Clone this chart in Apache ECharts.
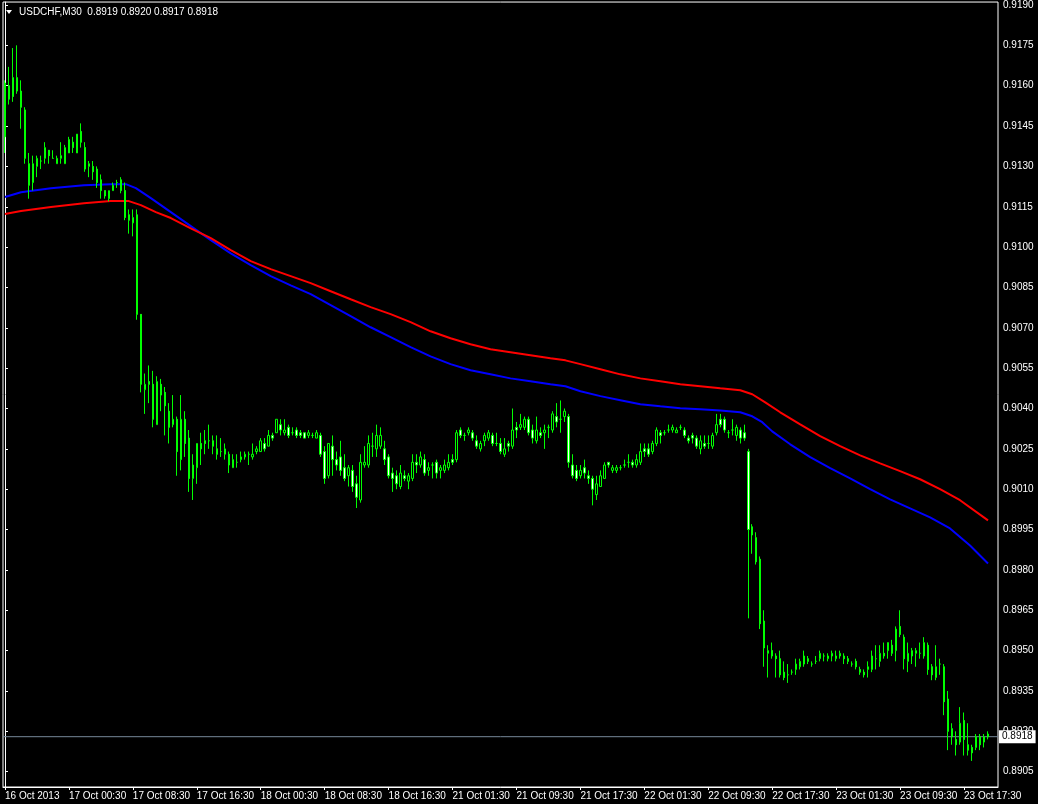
<!DOCTYPE html>
<html><head><meta charset="utf-8">
<script src="https://cdn.jsdelivr.net/npm/echarts@6/dist/echarts.min.js"></script>
<style>html,body{margin:0;padding:0;background:#000}#c{width:1038px;height:804px}</style>
</head><body><div id="c"></div>
<script>
const symbol = 'USDCHF,M30';
const xTickLabels = ['16 Oct 2013','17 Oct 00:30','17 Oct 08:30','17 Oct 16:30','18 Oct 00:30','18 Oct 08:30','18 Oct 16:30','21 Oct 01:30','21 Oct 09:30','21 Oct 17:30','22 Oct 01:30','22 Oct 09:30','22 Oct 17:30','23 Oct 01:30','23 Oct 09:30','23 Oct 17:30'];
const barsPerTick = 16;
const yTicks = [0.8905,0.8920,0.8935,0.8950,0.8965,0.8980,0.8995,0.9010,0.9025,0.9040,0.9055,0.9070,0.9085,0.9100,0.9115,0.9130,0.9145,0.9160,0.9175,0.9190];
const lastPrice = 0.8918;

const open = [0.9161,0.9160,0.9163,0.9163,0.9158,0.9151,0.9131,0.9124,0.9130,0.9132,0.9133,0.9136,0.9133,0.9131,0.9133,0.9131,0.9135,0.9139,0.9135,0.9143,
0.9137,0.9130,0.9130,0.9129,0.9125,0.9121,0.9118,0.9121,0.9124,0.9125,0.9121,0.9112,0.9109,0.9112,0.9075,0.9047,0.9050,0.9049,0.9034,0.9049,
0.9046,0.9039,0.9034,0.9036,0.9021,0.9036,0.9029,0.9014,0.9018,0.9027,0.9028,0.9028,0.9028,0.9025,0.9024,0.9023,0.9023,0.9018,0.9020,0.9021,
0.9022,0.9023,0.9022,0.9024,0.9024,0.9027,0.9026,0.9030,0.9031,0.9034,0.9031,0.9033,0.9031,0.9032,0.9031,0.9031,0.9030,0.9030,0.9029,0.9030,
0.9024,0.9015,0.9026,0.9021,0.9022,0.9018,0.9015,0.9017,0.9012,0.9006,0.9019,0.9019,0.9026,0.9025,0.9026,0.9025,0.9022,0.9016,0.9015,0.9011,
0.9015,0.9013,0.9014,0.9020,0.9019,0.9021,0.9017,0.9019,0.9020,0.9017,0.9017,0.9018,0.9021,0.9021,0.9032,0.9030,0.9031,0.9031,0.9028,0.9025,
0.9028,0.9029,0.9030,0.9027,0.9027,0.9023,0.9027,0.9026,0.9033,0.9033,0.9033,0.9036,0.9032,0.9028,0.9031,0.9031,0.9033,0.9032,0.9037,0.9036,
0.9037,0.9037,0.9019,0.9017,0.9015,0.9018,0.9015,0.9014,0.9008,0.9011,0.9014,0.9020,0.9017,0.9017,0.9018,0.9019,0.9020,0.9020,0.9019,0.9020,
0.9025,0.9025,0.9024,0.9027,0.9031,0.9031,0.9032,0.9032,0.9031,0.9033,0.9032,0.9029,0.9030,0.9029,0.9025,0.9027,0.9027,0.9026,0.9031,0.9036,
0.9036,0.9031,0.9032,0.9030,0.9032,0.9031,0.9024,0.8996,0.8992,0.8984,0.8961,0.8949,0.8950,0.8948,0.8947,0.8942,0.8941,0.8942,0.8943,0.8944,
0.8945,0.8947,0.8945,0.8946,0.8947,0.8948,0.8947,0.8948,0.8947,0.8948,0.8948,0.8947,0.8945,0.8946,0.8943,0.8942,0.8943,0.8943,0.8947,0.8946,
0.8949,0.8950,0.8952,0.8950,0.8959,0.8955,0.8946,0.8948,0.8949,0.8949,0.8948,0.8952,0.8944,0.8940,0.8945,0.8944,0.8932,0.8921,0.8917,0.8916,
0.8924,0.8915,0.8914,0.8914,0.8918,0.8916,0.8919];
const high = [0.9162,0.9167,0.9174,0.9175,0.9162,0.9152,0.9135,0.9134,0.9134,0.9134,0.9139,0.9136,0.9136,0.9134,0.9139,0.9138,0.9141,0.9141,0.9142,0.9146,
0.9139,0.9132,0.9132,0.9130,0.9127,0.9121,0.9121,0.9124,0.9125,0.9126,0.9124,0.9114,0.9114,0.9114,0.9075,0.9053,0.9056,0.9054,0.9052,0.9051,
0.9048,0.9042,0.9045,0.9037,0.9045,0.9039,0.9032,0.9023,0.9027,0.9031,0.9032,0.9034,0.9030,0.9030,0.9029,0.9027,0.9024,0.9023,0.9023,0.9024,
0.9024,0.9024,0.9027,0.9026,0.9029,0.9029,0.9032,0.9031,0.9036,0.9036,0.9036,0.9034,0.9033,0.9033,0.9032,0.9031,0.9032,0.9031,0.9032,0.9031,
0.9026,0.9027,0.9030,0.9024,0.9028,0.9023,0.9019,0.9019,0.9015,0.9023,0.9026,0.9030,0.9031,0.9034,0.9033,0.9028,0.9023,0.9018,0.9017,0.9019,
0.9017,0.9016,0.9023,0.9023,0.9024,0.9023,0.9020,0.9020,0.9021,0.9019,0.9021,0.9023,0.9023,0.9032,0.9033,0.9031,0.9033,0.9032,0.9030,0.9028,
0.9031,0.9032,0.9031,0.9031,0.9029,0.9029,0.9028,0.9040,0.9035,0.9038,0.9037,0.9037,0.9034,0.9037,0.9033,0.9034,0.9034,0.9039,0.9042,0.9043,
0.9040,0.9038,0.9023,0.9019,0.9019,0.9021,0.9017,0.9015,0.9015,0.9017,0.9020,0.9020,0.9019,0.9019,0.9019,0.9021,0.9023,0.9021,0.9023,0.9027,
0.9027,0.9027,0.9028,0.9033,0.9032,0.9032,0.9034,0.9034,0.9033,0.9034,0.9033,0.9030,0.9031,0.9030,0.9030,0.9030,0.9030,0.9031,0.9038,0.9038,
0.9037,0.9032,0.9036,0.9034,0.9033,0.9034,0.9025,0.8997,0.8994,0.8985,0.8965,0.8952,0.8953,0.8949,0.8950,0.8946,0.8945,0.8943,0.8947,0.8947,
0.8950,0.8948,0.8946,0.8948,0.8950,0.8949,0.8949,0.8950,0.8950,0.8950,0.8949,0.8948,0.8946,0.8947,0.8944,0.8943,0.8946,0.8950,0.8952,0.8952,
0.8953,0.8953,0.8954,0.8959,0.8965,0.8956,0.8953,0.8951,0.8951,0.8953,0.8955,0.8953,0.8945,0.8952,0.8947,0.8945,0.8935,0.8923,0.8920,0.8929,
0.8927,0.8923,0.8915,0.8919,0.8919,0.8919,0.8920];
const low = [0.9135,0.9153,0.9154,0.9157,0.9144,0.9131,0.9118,0.9121,0.9126,0.9129,0.9131,0.9131,0.9133,0.9131,0.9131,0.9131,0.9135,0.9135,0.9135,0.9137,
0.9128,0.9126,0.9125,0.9122,0.9118,0.9118,0.9117,0.9121,0.9122,0.9120,0.9110,0.9105,0.9104,0.9073,0.9046,0.9038,0.9042,0.9033,0.9034,0.9039,
0.9030,0.9027,0.9033,0.9015,0.9017,0.9022,0.9009,0.9006,0.9012,0.9019,0.9023,0.9025,0.9023,0.9021,0.9022,0.9021,0.9016,0.9018,0.9018,0.9020,
0.9021,0.9019,0.9021,0.9023,0.9024,0.9024,0.9026,0.9028,0.9031,0.9030,0.9030,0.9029,0.9030,0.9029,0.9029,0.9029,0.9029,0.9029,0.9029,0.9022,
0.9012,0.9014,0.9015,0.9017,0.9015,0.9013,0.9011,0.9009,0.9003,0.9005,0.9018,0.9018,0.9022,0.9022,0.9025,0.9019,0.9014,0.9009,0.9010,0.9010,
0.9013,0.9010,0.9013,0.9016,0.9018,0.9015,0.9015,0.9014,0.9014,0.9014,0.9016,0.9017,0.9019,0.9020,0.9029,0.9028,0.9030,0.9028,0.9025,0.9024,
0.9026,0.9028,0.9026,0.9026,0.9023,0.9022,0.9024,0.9025,0.9029,0.9032,0.9032,0.9030,0.9027,0.9027,0.9029,0.9025,0.9029,0.9031,0.9033,0.9031,
0.9035,0.9018,0.9014,0.9013,0.9014,0.9014,0.9012,0.9004,0.9006,0.9011,0.9014,0.9018,0.9016,0.9016,0.9017,0.9018,0.9018,0.9018,0.9018,0.9019,
0.9022,0.9022,0.9023,0.9026,0.9027,0.9030,0.9031,0.9031,0.9031,0.9032,0.9029,0.9027,0.9027,0.9025,0.9023,0.9025,0.9025,0.9025,0.9030,0.9033,
0.9031,0.9029,0.9030,0.9028,0.9027,0.9028,0.8962,0.8986,0.8982,0.8958,0.8944,0.8940,0.8947,0.8940,0.8940,0.8939,0.8938,0.8941,0.8941,0.8943,
0.8944,0.8945,0.8944,0.8945,0.8946,0.8946,0.8946,0.8946,0.8946,0.8947,0.8945,0.8945,0.8944,0.8943,0.8941,0.8940,0.8940,0.8942,0.8943,0.8944,
0.8947,0.8947,0.8948,0.8946,0.8955,0.8943,0.8942,0.8945,0.8944,0.8947,0.8947,0.8941,0.8939,0.8939,0.8941,0.8926,0.8913,0.8915,0.8911,0.8915,
0.8911,0.8911,0.8909,0.8913,0.8913,0.8914,0.8917];
const close = [0.9141,0.9155,0.9156,0.9158,0.9152,0.9133,0.9123,0.9131,0.9133,0.9132,0.9137,0.9134,0.9133,0.9133,0.9134,0.9137,0.9140,0.9137,0.9142,0.9139,
0.9129,0.9131,0.9128,0.9124,0.9121,0.9119,0.9121,0.9123,0.9124,0.9121,0.9111,0.9110,0.9111,0.9075,0.9049,0.9049,0.9049,0.9036,0.9050,0.9045,
0.9041,0.9033,0.9036,0.9024,0.9036,0.9027,0.9014,0.9019,0.9027,0.9025,0.9027,0.9028,0.9026,0.9023,0.9024,0.9025,0.9019,0.9021,0.9020,0.9022,
0.9023,0.9023,0.9023,0.9025,0.9028,0.9025,0.9030,0.9029,0.9036,0.9032,0.9032,0.9030,0.9031,0.9030,0.9030,0.9029,0.9031,0.9030,0.9031,0.9023,
0.9014,0.9027,0.9021,0.9019,0.9017,0.9014,0.9018,0.9011,0.9007,0.9020,0.9020,0.9027,0.9026,0.9030,0.9030,0.9021,0.9015,0.9014,0.9012,0.9016,
0.9014,0.9015,0.9020,0.9019,0.9022,0.9016,0.9018,0.9019,0.9016,0.9018,0.9019,0.9020,0.9020,0.9031,0.9030,0.9030,0.9032,0.9029,0.9026,0.9027,
0.9030,0.9031,0.9027,0.9027,0.9024,0.9025,0.9026,0.9032,0.9032,0.9034,0.9036,0.9031,0.9029,0.9032,0.9030,0.9032,0.9033,0.9038,0.9035,0.9036,
0.9039,0.9020,0.9015,0.9014,0.9017,0.9016,0.9014,0.9010,0.9012,0.9015,0.9019,0.9019,0.9018,0.9018,0.9018,0.9019,0.9020,0.9019,0.9021,0.9024,
0.9024,0.9023,0.9027,0.9032,0.9030,0.9031,0.9032,0.9033,0.9032,0.9033,0.9030,0.9028,0.9029,0.9026,0.9028,0.9026,0.9027,0.9030,0.9034,0.9034,
0.9032,0.9031,0.9032,0.9033,0.9029,0.9029,0.8995,0.8993,0.8983,0.8960,0.8951,0.8950,0.8948,0.8947,0.8941,0.8940,0.8941,0.8942,0.8945,0.8946,
0.8948,0.8946,0.8945,0.8946,0.8949,0.8948,0.8948,0.8949,0.8948,0.8949,0.8947,0.8946,0.8945,0.8944,0.8942,0.8941,0.8944,0.8948,0.8947,0.8949,
0.8948,0.8953,0.8949,0.8958,0.8956,0.8947,0.8949,0.8950,0.8950,0.8949,0.8953,0.8943,0.8941,0.8944,0.8945,0.8931,0.8920,0.8918,0.8915,0.8923,
0.8917,0.8913,0.8912,0.8918,0.8915,0.8918,0.8918];

const blueIdx = [0,4,11.5,19.75,26.5,30.25,32.75,36.5,41.5,46.5,51.5,56.5,61.5,66.5,71.5,76.5,81.5,86.5,91.5,96.5,101.5,106.5,111.5,116.5,121.5,126.5,131.5,136.5,140.25,144,149,154,159,164,169,174,179,184,187,189.5,192,196.5,201.5,206.5,211.5,216.5,221.5,226.5,231.5,236.5,241.5,246];
const blueMA = [0.91186,0.91204,0.91219,0.91230,0.91234,0.91234,0.91219,0.91182,0.91130,0.91078,0.91026,0.90977,0.90933,0.90892,0.90858,0.90825,0.90784,0.90743,0.90702,0.90665,0.90628,0.90594,0.90565,0.90542,0.90527,0.90512,0.90501,0.90490,0.90483,0.90464,0.90446,0.90431,0.90416,0.90408,0.90401,0.90397,0.90393,0.90386,0.90371,0.90349,0.90315,0.90267,0.90219,0.90178,0.90140,0.90100,0.90062,0.90029,0.89995,0.89954,0.89891,0.89824];
const redIdx = [0,4,11.5,19.75,26.5,31,34,37.75,41.5,46.5,51.5,56.5,61.5,66.5,71.5,76.5,81.5,86.5,91.5,96.5,101.5,106.5,111.5,116.5,121.5,126.5,131.5,136.5,140.25,144,149,154,159,164,169,174,179,184,187,190.25,194,199,204,209,214,219,224,229,234,239,246];
const redMA = [0.91123,0.91134,0.91149,0.91163,0.91171,0.91171,0.91156,0.91130,0.91108,0.91070,0.91033,0.90989,0.90948,0.90918,0.90892,0.90866,0.90836,0.90806,0.90777,0.90751,0.90721,0.90687,0.90661,0.90639,0.90620,0.90609,0.90598,0.90587,0.90579,0.90565,0.90546,0.90527,0.90512,0.90501,0.90490,0.90483,0.90475,0.90468,0.90453,0.90423,0.90386,0.90341,0.90297,0.90260,0.90226,0.90196,0.90167,0.90137,0.90100,0.90059,0.89984];

const nSlots = 249;
const cats = [];
for (let i = 0; i < nSlots; i++) cats.push(String(i));
const candles = open.map((o, i) => [o, close[i], low[i], high[i]]);
const n = open.length;
const hdr = symbol + '  ' + [open[n-1], high[n-1], low[n-1], close[n-1]].map(v => v.toFixed(4)).join(' ');
const font = '"Liberation Sans", Arial, sans-serif';
const isTick = (i) => i % barsPerTick === 0 && i / barsPerTick < xTickLabels.length;

const chart = echarts.init(document.getElementById('c'), null, {renderer: 'canvas'});
chart.setOption({
  animation: false,
  backgroundColor: '#000',
  textStyle: {fontFamily: font},
  grid: {left: 3, right: 40, top: 2, bottom: 17, show: true, borderColor: '#fff', borderWidth: 1, backgroundColor: '#000'},
  xAxis: [{
    type: 'category', data: cats, boundaryGap: true,
    axisLine: {lineStyle: {color: '#fff', width: 1}},
    axisTick: {show: true, interval: (i) => isTick(i), alignWithLabel: true, length: 3, lineStyle: {color: '#fff'}},
    axisLabel: {interval: (i) => isTick(i), formatter: (v, i) => xTickLabels[i / barsPerTick] || '', color: '#fff', fontSize: 10, fontFamily: font, align: 'left', margin: 4},
    splitLine: {show: false}
  }, {
    type: 'value', min: -0.5, max: nSlots - 0.5, show: false
  }],
  yAxis: {
    type: 'value', position: 'right', min: 0.88993, max: 0.91911, scale: true,
    axisLine: {show: true, lineStyle: {color: '#fff', width: 1}},
    axisTick: {show: true, length: 3, customValues: yTicks, lineStyle: {color: '#fff'}},
    axisLabel: {customValues: yTicks, formatter: (v) => v.toFixed(4), color: '#fff', fontSize: 10, fontFamily: font, margin: 5},
    splitLine: {show: false}
  },
  graphic: [
    {type: 'polygon', shape: {points: [[6, 10], [12, 10], [9, 14]]}, style: {fill: '#fff'}, z: 100},
    {type: 'text', left: 19, top: 7, style: {text: hdr, fill: '#fff', font: '10px ' + font}, z: 100}
  ],
  series: [
    {
      type: 'line', xAxisIndex: 1, data: [[-0.5, lastPrice], [nSlots - 0.5, lastPrice]],
      showSymbol: false, clip: false, silent: true,
      lineStyle: {color: '#778899', width: 1},
      endLabel: {show: true, formatter: lastPrice.toFixed(4), backgroundColor: '#fff', color: '#000', fontSize: 10, fontFamily: font, padding: [2, 3, 1, 3], distance: 1},
      z: 1
    },
    {
      type: 'candlestick', data: candles, barWidth: 2, clip: true,
      itemStyle: {color: '#000', color0: '#fff', borderColor: '#00ff00', borderColor0: '#00ff00', borderColorDoji: '#00ff00', borderWidth: 1},
      z: 3
    },
    {type: 'line', xAxisIndex: 1, data: blueIdx.map((x, i) => [x, blueMA[i]]), showSymbol: false, lineStyle: {color: '#0000ff', width: 2}, z: 2},
    {type: 'line', xAxisIndex: 1, data: redIdx.map((x, i) => [x, redMA[i]]), showSymbol: false, lineStyle: {color: '#ff0000', width: 2}, z: 2}
  ]
});
</script>
</body></html>
